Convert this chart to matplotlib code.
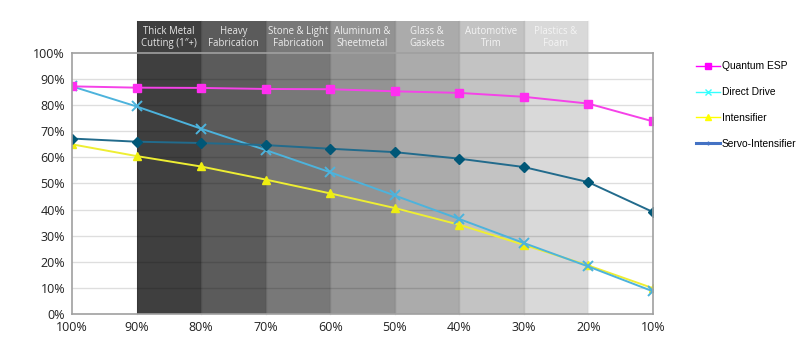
import matplotlib.pyplot as plt
from matplotlib.lines import Line2D
from matplotlib.patches import Rectangle

# --- Data ---
load_labels = ["100%", "90%", "80%", "70%", "60%", "50%", "40%", "30%", "20%", "10%"]
quantum_esp = [87.2, 86.7, 86.6, 86.2, 86.1, 85.3, 84.7, 83.2, 80.6, 73.8]
direct_drive = [87.2, 79.5, 71.0, 62.8, 54.3, 45.4, 36.4, 27.2, 18.2, 8.7]
intensifier = [65.0, 60.5, 56.5, 51.5, 46.2, 40.6, 34.2, 26.5, 18.6, 9.9]
servo_intensifier = [67.2, 66.0, 65.5, 64.7, 63.3, 62.0, 59.5, 56.3, 50.5, 39.1]

applications = ["Thick Metal\nCutting (1\u2033+)", "Heavy\nFabrication", "Stone & Light\nFabrication",
                "Aluminum &\nSheetmetal", "Glass &\nGaskets", "Automotive\nTrim", "Plastics &\nFoam"]
band_colors = ["#3f3f3f", "#5b5b5b", "#787878", "#939393", "#ababab", "#c3c3c3", "#d9d9d9"]
band_text_colors = ["#e6e6e6", "#e6e6e6", "#ededed", "#f0f0f0", "#f2f2f2", "#f4f4f4", "#f4f4f4"]

TICK_FONT = "Open Sans"

fig = plt.figure(figsize=(8, 3.46), dpi=100)
ax = fig.add_axes([0.09, 0.0925, 0.726, 0.7545])

x = list(range(len(load_labels)))
ax.set_xlim(0, len(load_labels) - 1)
ax.set_ylim(0, 100)

# application bands, running up past the plot top to hold their headings
header_top = 112.2
for i, (name, col, tcol) in enumerate(zip(applications, band_colors, band_text_colors)):
    ax.add_patch(Rectangle((i + 1, 0), 1, header_top, facecolor=col, edgecolor="none",
                           clip_on=False, zorder=0))
    ax.plot([i + 1, i + 1], [0, header_top], color="#000000", alpha=0.12, lw=1,
            clip_on=False, zorder=0.5)
    ax.text(i + 1.5, 106.0, name, ha="center", va="center", fontsize=6.9,
            color=tcol, family=TICK_FONT, linespacing=1.1, zorder=1)
ax.plot([8, 8], [0, header_top], color="#000000", alpha=0.08, lw=1, clip_on=False, zorder=0.5)

# horizontal grid
for yv in range(10, 100, 10):
    ax.axhline(yv, color="#000000", alpha=0.13, lw=1, zorder=1)

ax.plot(x, quantum_esp, color="#f542e8", lw=1.4, marker="s", ms=5.5,
        markerfacecolor="#ff2ef0", markeredgecolor="#ff2ef0", zorder=5)
ax.plot(x, direct_drive, color="#4db3dc", lw=1.4, marker="x", ms=7, mew=1.4, zorder=4)
ax.plot(x, intensifier, color="#eeee33", lw=1.4, marker="^", ms=6,
        markerfacecolor="#eeee10", markeredgecolor="#eeee10", zorder=3)
ax.plot(x, servo_intensifier, color="#226b8c", lw=1.4, marker="D", ms=5,
        markerfacecolor="#005777", markeredgecolor="#005777", zorder=4)

ax.set_xticks(x)
ax.set_xticklabels(load_labels)
ax.set_yticks(range(0, 101, 10))
ax.set_yticklabels([f"{v}%" for v in range(0, 101, 10)])
ax.tick_params(length=0, labelsize=9, colors="#222222", pad=5)
for lab in ax.get_xticklabels() + ax.get_yticklabels():
    lab.set_family(TICK_FONT)

for side in ["left", "right", "top", "bottom"]:
    ax.spines[side].set_color("#a0a0a0")
    ax.spines[side].set_linewidth(1.2)
    ax.spines[side].set_zorder(6)

# legend uses the original series colours
handles = [
    Line2D([0], [0], color="#ff00ff", lw=1, marker="s", ms=4, label="Quantum ESP"),
    Line2D([0], [0], color="#33ffff", lw=1, marker="x", ms=5, label="Direct Drive"),
    Line2D([0], [0], color="#ffff00", lw=1, marker="^", ms=4, label="Intensifier"),
    Line2D([0], [0], color="#4472c4", lw=2.2, marker="+", ms=3, label="Servo-Intensifier"),
]
fig.legend(handles=handles, loc="upper left", bbox_to_anchor=(0.865, 0.835), frameon=False,
           prop={"family": "Liberation Sans", "size": 7.4}, handlelength=2.3,
           handletextpad=0.2, labelspacing=1.55, borderaxespad=0)

fig.savefig("out.png", dpi=100)
